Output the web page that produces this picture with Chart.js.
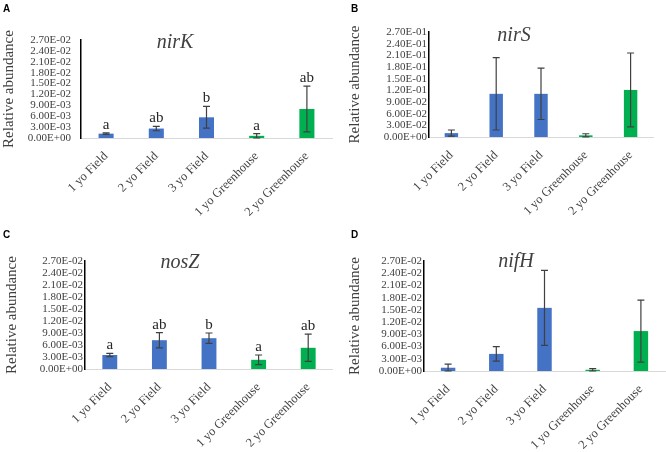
<!DOCTYPE html>
<html lang="en">
<head>
<meta charset="UTF-8">
<title>Relative abundance of N-cycling genes</title>
<script src="https://cdn.jsdelivr.net/npm/chart.js"></script>
<style>
  body { margin: 0; background: #fff; }
  .grid { position: relative; width: 666px; height: 452px; }
  .grid canvas { position: absolute; }
</style>
</head>
<body>
<div class="grid">
  <canvas id="chartA" width="333" height="226" style="left:0;top:0"></canvas>
  <canvas id="chartB" width="333" height="226" style="left:333px;top:0"></canvas>
  <canvas id="chartC" width="333" height="226" style="left:0;top:226px"></canvas>
  <canvas id="chartD" width="333" height="226" style="left:333px;top:226px"></canvas>
</div>
<script>
// categories shared by all four panels
const categories = ['1 yo Field', '2 yo Field', '3 yo Field', '1 yo Greenhouse', '2 yo Greenhouse'];
const barColors = ['#4472C4', '#4472C4', '#4472C4', '#00B050', '#00B050'];

// means and error bars
const nirKMean = [0.0012, 0.0026, 0.0057, 0.0006, 0.0080];
const nirKErr = [0.0002, 0.0006, 0.0030, 0.0006, 0.0063];
const nirKLetters = ['a', 'ab', 'b', 'a', 'ab'];

const nirSMean = [0.0100, 0.1110, 0.1110, 0.0043, 0.1210];
const nirSErr = [0.0080, 0.0930, 0.0660, 0.0040, 0.0950];

const nosZMean = [0.0035, 0.0072, 0.0077, 0.0023, 0.0053];
const nosZErr = [0.0004, 0.0019, 0.0013, 0.0012, 0.0034];
const nosZLetters = ['a', 'ab', 'b', 'a', 'ab'];

const nifHMean = [0.0008, 0.0042, 0.0155, 0.0003, 0.0098];
const nifHErr = [0.0009, 0.0018, 0.0092, 0.0003, 0.0076];

// y axis ranges (0 .. max, one tick every step)
const smallAxis = [0, 0.027, 0.003];
const nirSAxis = [0, 0.27, 0.03];

const serif = '"Liberation Serif", "Times New Roman", serif';
const textGray = '#404040';

// Excel-style scientific label: 3.00E-03
function sci(v) {
  if (Math.abs(v) < 1e-12) return '0.00E+00';
  let e = Math.floor(Math.log10(Math.abs(v)) + 1e-9);
  let m = v / Math.pow(10, e);
  if (m >= 9.995) { m /= 10; e += 1; }
  return m.toFixed(2) + 'E' + (e < 0 ? '-' : '+') + String(Math.abs(e)).padStart(2, '0');
}

// error bars, significance letters, gene name and panel letter
const extras = {
  id: 'extras',
  afterDatasetsDraw(chart, args, o) {
    const ctx = chart.ctx;
    const y = chart.scales.y;
    const mean = chart.data.datasets[0].data;
    const bars = chart.getDatasetMeta(0).data;
    ctx.save();
    ctx.strokeStyle = '#404040';
    ctx.lineWidth = 1.2;
    bars.forEach((bar, i) => {
      const top = y.getPixelForValue(mean[i] + o.err[i]);
      const bot = y.getPixelForValue(Math.max(mean[i] - o.err[i], 0));
      ctx.beginPath();
      ctx.moveTo(bar.x, top); ctx.lineTo(bar.x, bot);
      ctx.moveTo(bar.x - 3.5, top); ctx.lineTo(bar.x + 3.5, top);
      ctx.moveTo(bar.x - 3.5, bot); ctx.lineTo(bar.x + 3.5, bot);
      ctx.stroke();
      if (o.letters) {
        ctx.fillStyle = '#262626';
        ctx.font = '15px ' + serif;
        ctx.textAlign = 'center';
        ctx.textBaseline = 'alphabetic';
        ctx.fillText(o.letters[i], bar.x, top - 4);
      }
    });
    ctx.fillStyle = textGray;
    ctx.font = 'italic 20px ' + serif;
    ctx.textAlign = 'center';
    ctx.textBaseline = 'middle';
    ctx.fillText(o.gene, o.geneX, o.geneY);
    ctx.fillStyle = '#000';
    ctx.font = 'bold 10px "Liberation Sans", Arial, sans-serif';
    ctx.textAlign = 'left';
    ctx.textBaseline = 'alphabetic';
    ctx.fillText(o.panel, o.panelX, 12);
    ctx.restore();
  }
};

function makeChart(id, p) {
  const W = 333, H = 226;
  return new Chart(document.getElementById(id), {
    type: 'bar',
    data: {
      labels: categories,
      datasets: [{
        data: p.mean,
        backgroundColor: barColors,
        categoryPercentage: 1,
        barPercentage: 0.3
      }]
    },
    options: {
      responsive: false,
      animation: false,
      layout: { padding: { left: 0, top: p.top, right: W - p.right, bottom: 0 } },
      plugins: {
        legend: { display: false },
        tooltip: { enabled: false },
        extras: {
          err: p.err, letters: p.letters, gene: p.gene,
          geneX: p.geneX, geneY: p.geneY, panel: p.panel, panelX: p.panelX
        }
      },
      scales: {
        x: {
          grid: { display: false, drawTicks: false },
          border: { color: '#D9D9D9', width: 1 },
          ticks: {
            color: textGray, font: { family: serif, size: 12.5 },
            minRotation: 45, maxRotation: 45, autoSkip: false, padding: 11
          },
          afterFit: s => { s.height = H - p.bottom; }
        },
        y: {
          min: p.axis[0], max: p.axis[1],
          grid: { display: false, drawTicks: false, tickLength: 0 },
          border: { color: '#000', width: 1.5 },
          ticks: {
            stepSize: p.axis[2], color: textGray, padding: p.tickPad,
            autoSkip: false,
            font: { family: serif, size: 11 },
            callback: v => sci(v)
          },
          title: {
            display: true, text: 'Relative abundance', color: textGray,
            font: { family: serif, size: 15 }, padding: { top: p.titlePad, bottom: 0 }
          },
          afterFit: s => { s.width = p.left; }
        }
      }
    },
    plugins: [extras]
  });
}

makeChart('chartA', {
  mean: nirKMean, err: nirKErr, letters: nirKLetters, axis: smallAxis,
  gene: 'nirK', geneX: 175, geneY: 43, panel: 'A', panelX: 3,
  left: 81, right: 332, top: 40, bottom: 138, tickPad: 10, titlePad: 0
});
makeChart('chartB', {
  mean: nirSMean, err: nirSErr, letters: null, axis: nirSAxis,
  gene: 'nirS', geneX: 181, geneY: 36, panel: 'B', panelX: 18,
  left: 96, right: 320, top: 32, bottom: 137, tickPad: 2, titlePad: 13
});
makeChart('chartC', {
  mean: nosZMean, err: nosZErr, letters: nosZLetters, axis: smallAxis,
  gene: 'nosZ', geneX: 180, geneY: 37, panel: 'C', panelX: 3,
  left: 85, right: 333, top: 35, bottom: 143, tickPad: 2, titlePad: 3
});
makeChart('chartD', {
  mean: nifHMean, err: nifHErr, letters: null, axis: smallAxis,
  gene: 'nifH', geneX: 183, geneY: 36, panel: 'D', panelX: 18,
  left: 91, right: 332, top: 35, bottom: 145, tickPad: 2, titlePad: 13
});
</script>
</body>
</html>
